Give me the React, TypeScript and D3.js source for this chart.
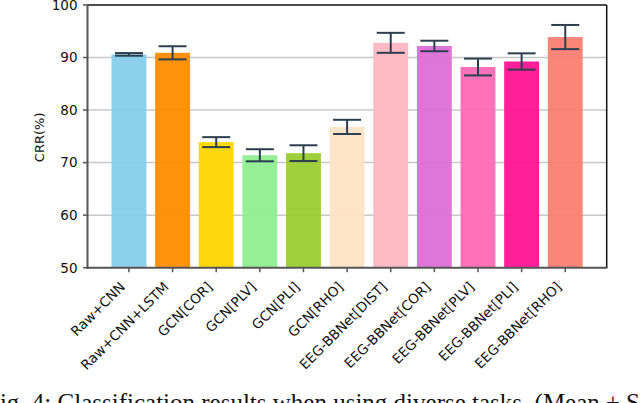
import React from "react";
import * as d3 from "d3";

const categories = [
  "Raw+CNN",
  "Raw+CNN+LSTM",
  "GCN[COR]",
  "GCN[PLV]",
  "GCN[PLI]",
  "GCN[RHO]",
  "EEG-BBNet[DIST]",
  "EEG-BBNet[COR]",
  "EEG-BBNet[PLV]",
  "EEG-BBNet[PLI]",
  "EEG-BBNet[RHO]",
];
const means = [90.6, 90.9, 73.9, 71.4, 71.8, 76.8, 92.8, 92.2, 88.2, 89.25, 93.9];
const sds = [0.25, 1.25, 0.95, 1.15, 1.5, 1.35, 1.9, 1.0, 1.6, 1.55, 2.3];
const colors = [
  "#87CEEB",
  "#FF8C00",
  "#FFD700",
  "#90EE90",
  "#9ACD32",
  "#FFE4C4",
  "#FFB6C1",
  "#DA70D6",
  "#FF69B4",
  "#FF1493",
  "#FA8072",
];
const yTicks = [50, 60, 70, 80, 90, 100];
const caption = "Fig. 4: Classification results when using diverse tasks. (Mean \u00B1 SD)";

const W = 640;
const H = 403;
const left = 87.5;
const right = 606.7;
const top = 5;
const bottom = 267.7;

export default function App() {
  const x = d3.scaleLinear().domain([-0.95, 10.95]).range([left, right]);
  const y = d3.scaleLinear().domain([50, 100]).range([bottom, top]);
  const step = x(1) - x(0);
  const bw = step * 0.8;
  const cap = 14;
  const sans = "'DejaVu Sans', sans-serif";

  return (
    <svg
      width={W}
      height={H}
      style={{ position: "absolute", left: 0, top: 0, background: "#fff" }}
    >
      <rect x={0} y={0} width={W} height={H} fill="#fff" />
      {/* grid */}
      {yTicks.slice(1, -1).map((t) => (
        <line
          key={"g" + t}
          x1={left}
          x2={right}
          y1={y(t)}
          y2={y(t)}
          stroke="#c8c8c8"
          strokeWidth={1.5}
        />
      ))}
      {/* bars */}
      {means.map((m, i) => (
        <rect
          key={"b" + i}
          x={x(i) - bw / 2}
          y={y(m)}
          width={bw}
          height={y(50) - y(m)}
          fill={colors[i]}
          fillOpacity={0.95}
        />
      ))}
      {/* error bars */}
      {means.map((m, i) => (
        <g key={"e" + i} stroke="#2c3e50" strokeWidth={2}>
          <line x1={x(i)} x2={x(i)} y1={y(m + sds[i])} y2={y(m - sds[i])} />
          <line x1={x(i) - cap} x2={x(i) + cap} y1={y(m + sds[i])} y2={y(m + sds[i])} />
          <line x1={x(i) - cap} x2={x(i) + cap} y1={y(m - sds[i])} y2={y(m - sds[i])} />
        </g>
      ))}
      {/* spines */}
      <line x1={left} x2={right} y1={top} y2={top} stroke="#111" strokeWidth={1.5} />
      <line x1={right} x2={right} y1={top} y2={bottom} stroke="#111" strokeWidth={1.5} />
      <line x1={left} x2={left} y1={top - 0.75} y2={bottom + 1} stroke="#555" strokeWidth={2} />
      <line x1={left - 1} x2={right + 0.75} y1={bottom} y2={bottom} stroke="#555" strokeWidth={2} />
      {/* y ticks */}
      {yTicks.map((t) => (
        <g key={"yt" + t}>
          <line x1={left - 4.5} x2={left} y1={y(t)} y2={y(t)} stroke="#555" strokeWidth={1.5} />
          <text
            x={left - 10}
            y={y(t)}
            dy="0.36em"
            textAnchor="end"
            fontFamily={sans}
            fontSize={13.5}
            fill="#111"
          >
            {t}
          </text>
        </g>
      ))}
      {/* x ticks */}
      {categories.map((c, i) => (
        <g key={"xt" + i}>
          <line x1={x(i)} x2={x(i)} y1={bottom} y2={bottom + 4.5} stroke="#555" strokeWidth={1.5} />
          <text
            transform={`translate(${x(i) - 3},${bottom + 20}) rotate(-45)`}
            textAnchor="end"
            fontFamily={sans}
            fontSize={13.6}
            fill="#111"
          >
            {c}
          </text>
        </g>
      ))}
      <text
        transform={`translate(44,${(top + bottom) / 2 + 1}) rotate(-90)`}
        textAnchor="middle"
        fontFamily={sans}
        fontSize={13}
        fill="#111"
      >
        CRR(%)
      </text>
      <text
        x={-14}
        y={410.5}
        fontFamily="'Liberation Serif', serif"
        fontSize={25}
        fill="#111"
      >
        {caption}
      </text>
    </svg>
  );
}
